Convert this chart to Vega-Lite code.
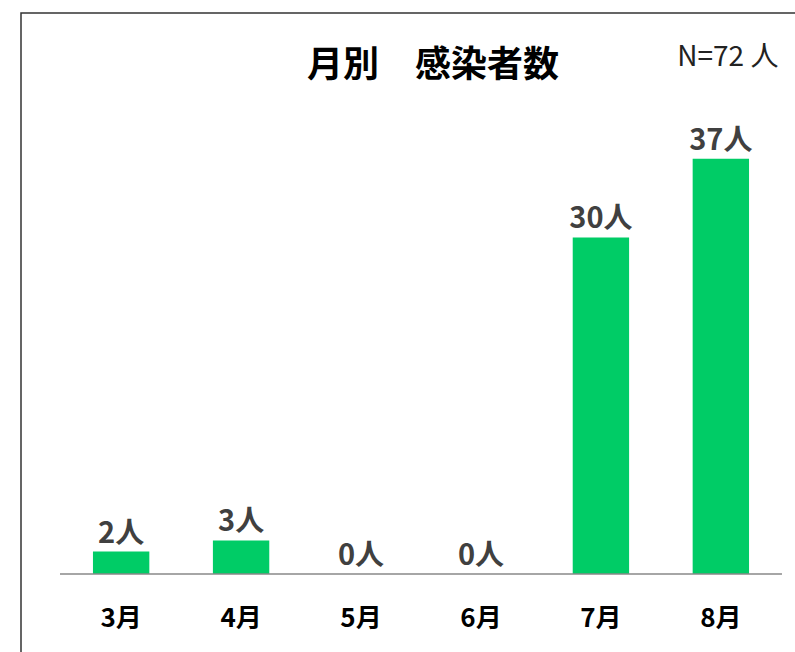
{
  "$schema": "https://vega.github.io/schema/vega-lite/v6.json",
  "padding": {"left": 21, "top": 13, "right": 0, "bottom": 0},
  "width": 800,
  "height": 680,
  "background": "white",
  "config": {
    "view": {"stroke": "#333333", "strokeWidth": 1.5},
    "font": "Noto Sans CJK JP"
  },
  "title": {
    "text": "月別　感染者数",
    "anchor": "middle",
    "frame": "group",
    "orient": "top",
    "offset": -100,
    "dx": 12,
    "baseline": "alphabetic",
    "font": "Noto Sans CJK JP",
    "fontSize": 36,
    "fontWeight": "bold",
    "color": "#000000"
  },
  "data": {
    "values": [
      {"month": "3月", "count": 2, "label": "2人"},
      {"month": "4月", "count": 3, "label": "3人"},
      {"month": "5月", "count": 0, "label": "0人"},
      {"month": "6月", "count": 0, "label": "0人"},
      {"month": "7月", "count": 30, "label": "30人"},
      {"month": "8月", "count": 37, "label": "37人"}
    ]
  },
  "encoding": {
    "x": {
      "field": "month",
      "type": "nominal",
      "sort": null,
      "scale": {"paddingInner": 0.53, "paddingOuter": 0.6},
      "axis": {
        "title": null,
        "orient": "bottom",
        "offset": -118,
        "domain": false,
        "ticks": false,
        "tickSize": 0,
        "labelPadding": 30,
        "labelAngle": 0,
        "labelFont": "Noto Sans CJK JP",
        "labelFontSize": 26,
        "labelFontWeight": "bold",
        "labelColor": "#000000"
      }
    }
  },
  "layer": [
    {
      "mark": {"type": "bar", "color": "#00CC66"},
      "encoding": {
        "y": {
          "field": "count",
          "type": "quantitative",
          "scale": {"domain": [-10.6, 50], "nice": false, "zero": false},
          "axis": null
        }
      }
    },
    {
      "mark": {"type": "text", "baseline": "alphabetic", "dy": -9, "fontSize": 29, "fontWeight": "bold", "color": "#404040", "font": "Noto Sans CJK JP"},
      "encoding": {
        "y": {"field": "count", "type": "quantitative"},
        "text": {"field": "label", "type": "nominal"}
      }
    },
    {
      "data": {"values": [{"n": 1}]},
      "mark": {"type": "rule", "color": "#888888", "strokeWidth": 1.5},
      "encoding": {
        "x": {"datum": "3月", "bandPosition": -0.585},
        "x2": {"datum": "8月", "bandPosition": 1.584},
        "y": {"datum": 0}
      }
    },
    {
      "data": {"values": [{"note": "N=72 人"}]},
      "mark": {"type": "text", "baseline": "middle", "align": "center", "dx": 7, "fontSize": 28, "fontWeight": "normal", "color": "#222222", "font": "Liberation Sans Narrow, Noto Sans CJK JP"},
      "encoding": {
        "x": {"datum": "8月"},
        "y": {"datum": 46},
        "text": {"field": "note", "type": "nominal"}
      }
    }
  ]
}
